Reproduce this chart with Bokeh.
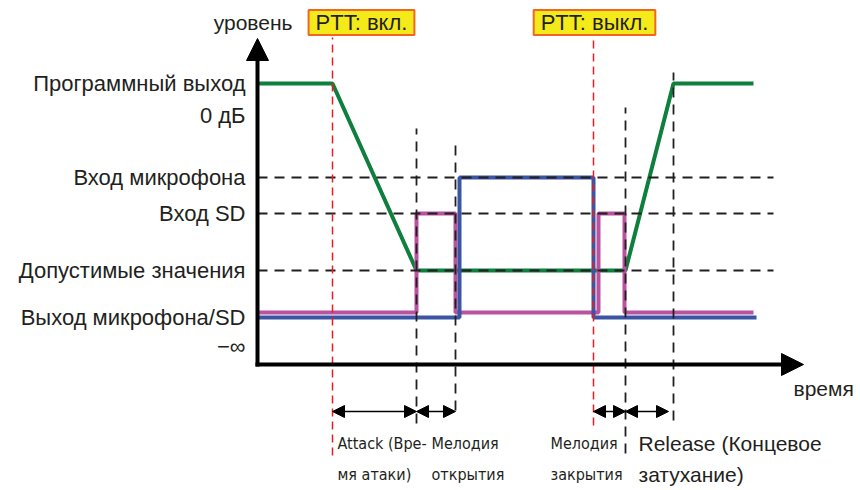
from bokeh.plotting import figure
from bokeh.models import Range1d, Arrow, NormalHead, Label
from bokeh.core.properties import value
from bokeh.embed import file_html
from bokeh.resources import INLINE

# ---- data (time in arbitrary units from start, level in arbitrary units above -inf) ----
prog_t = [0, 75, 159, 368, 416, 496]          # программный выход
prog_v = [281, 281, 94, 94, 281, 281]
sd_t = [0, 159, 159, 198, 198, 341, 341, 367, 367, 496]   # выход SD
sd_v = [52, 52, 151, 151, 52, 52, 151, 151, 52, 52]
mic_t = [0, 202, 202, 336, 336, 499]          # выход микрофона
mic_v = [47, 47, 187, 187, 47, 47]

ptt_times = [75, 336]
ptt_labels = ["PTT: вкл.", "PTT: выкл."]
event_times = [159, 198, 368, 416]            # границы интервалов
ref_levels = [187, 151, 94]                   # пунктирные уровни

tick_labels = ["Программный выход", "0 дБ", "Вход микрофона", "Вход SD",
               "Допустимые значения", "Выход микрофона/SD", "\u2212\u221e"]
tick_values = [281, 249, 187, 151, 94, 47, 18]

spans = [(75, 159), (159, 198), (336, 368), (368, 411)]
span_labels = [["Attack (Вре-", "мя атаки)"], ["Мелодия", "открытия"],
               ["Мелодия", "закрытия"], ["Release (Концевое", "затухание)"]]

# ---- figure ----
p = figure(width=860, height=490, x_range=Range1d(-257, 603), y_range=Range1d(-126, 364),
           output_backend="svg", toolbar_location=None, min_border=0,
           x_axis_type=None, y_axis_type=None)
p.outline_line_color = None
p.background_fill_color = "white"

TXT = "#231f20"
FONT = value("Liberation Sans")
NARROW = value("'Liberation Sans Narrow', 'DejaVu Sans Condensed', 'Liberation Sans', sans-serif")

# signal lines
p.line(prog_t, prog_v, line_color="#0f7f3d", line_width=4)
p.line(sd_t, sd_v, line_color="#b9529f", line_width=4)
p.line(mic_t, mic_v, line_color="#3a55a4", line_width=4)

# horizontal dashed reference levels
x_end_ref = 516
for lv in ref_levels:
    p.line([0, x_end_ref], [lv, lv], line_color=TXT, line_width=1.8, line_dash="10 7")

# vertical dashed event lines
v_tops = [236, 222, 257, 292]
v_bots = [-59, -46, -89, -56]
for t, top, bot in zip(event_times, v_tops, v_bots):
    p.line([t, t], [bot, top], line_color=TXT, line_width=1.8, line_dash="10 7")

# red PTT lines
r_bots = [-91, -61]
for t, bot in zip(ptt_times, r_bots):
    p.line([t, t], [bot, 327], line_color="#ed1c24", line_width=1.5, line_dash="8 5")

# axes with arrows
p.add_layout(Arrow(x_start=0, y_start=-2, x_end=0, y_end=326, line_width=4, line_color="black",
                   end=NormalHead(size=22, fill_color="black", line_color="black", line_width=1)))
p.add_layout(Arrow(x_start=-2, y_start=0, x_end=546, y_end=0, line_width=4, line_color="black",
                   end=NormalHead(size=22, fill_color="black", line_color="black", line_width=1)))

# interval double arrows
row_y = -47
for a, b in spans:
    p.add_layout(Arrow(x_start=a, y_start=row_y, x_end=b, y_end=row_y, line_width=1.6, line_color="black",
                       start=NormalHead(size=12, fill_color="black", line_color="black", line_width=1),
                       end=NormalHead(size=12, fill_color="black", line_color="black", line_width=1)))

# y tick labels
p.text(x=[-12] * len(tick_values), y=tick_values, text=tick_labels, text_align="right",
       text_baseline="middle", text_font=FONT, text_font_size="22px", text_color=TXT)

# axis titles
p.text(x=[35], y=[342], text=["уровень"], text_align="right", text_baseline="middle",
       text_font=FONT, text_font_size="21px", text_color=TXT)
p.text(x=[536], y=[-24], text=["время"], text_align="left", text_baseline="middle",
       text_font=FONT, text_font_size="21px", text_color=TXT)

# PTT labels
offsets = [29, 1]
for t, off, lab in zip(ptt_times, offsets, ptt_labels):
    p.add_layout(Label(x=t + off, y=342, text=lab, text_align="center", text_baseline="middle",
                       text_font="Liberation Sans", text_font_size="22px", text_color=TXT,
                       background_fill_color="#f4ea19", border_line_color="#f26522",
                       border_line_width=2, padding=(7, 0)))

# interval labels
lab_x = [80, 174, 293, 381]
fonts = [NARROW, NARROW, NARROW, FONT]
sizes = ["16px", "16px", "16px", "21px"]
for lx, f, s, (l1, l2) in zip(lab_x, fonts, sizes, span_labels):
    p.text(x=[lx, lx], y=[-79, -110], text=[l1, l2], text_align="left", text_baseline="middle",
           text_font=f, text_font_size=s, text_color=TXT)

open("out.html", "w").write(file_html(p, INLINE))
